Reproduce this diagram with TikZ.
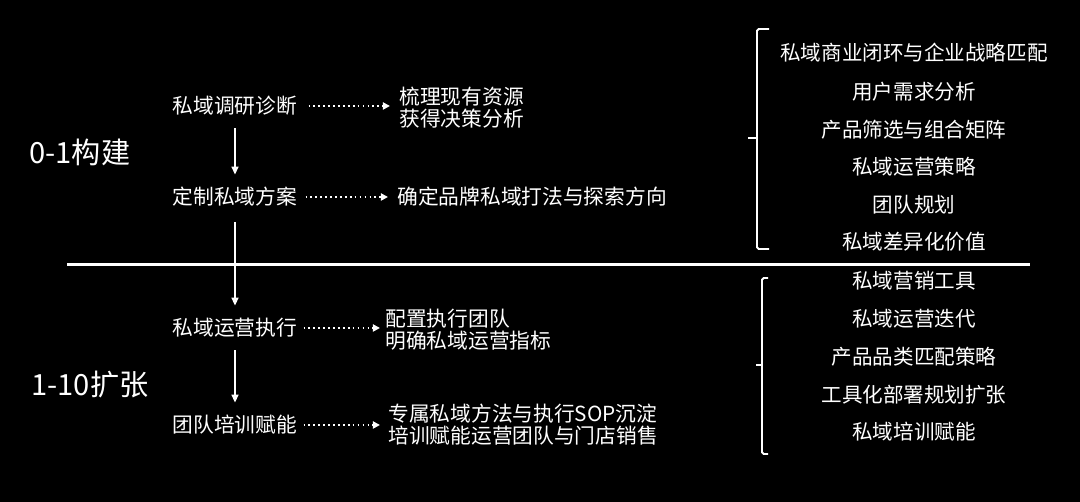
\documentclass[tikz,border=0pt]{standalone}
\usepackage{fontspec}
\setmainfont{Noto Sans CJK SC}
\usetikzlibrary{positioning, arrows.meta}

\tikzset{
    stage/.style={font=\fontsize{16.6}{19}\selectfont, text=white, anchor=west, inner sep=0pt},
    stepnode/.style={font=\fontsize{11.8}{14}\selectfont, text=white, inner sep=0pt},
    outnode/.style={font=\fontsize{11.8}{12.6}\selectfont, text=white, align=left, anchor=west, inner sep=0pt},
    listnode/.style={font=\fontsize{11.7}{14}\selectfont, text=white, inner sep=0pt},
    flow/.style={white, line width=0.8pt, -{Triangle[length=4.5pt, width=4pt]}, shorten <=0.25cm, shorten >=0.25cm},
    hint/.style={white, line width=1pt, dash pattern=on 1pt off 1.8pt, -{Triangle[length=4pt, width=4pt]}},
    brace/.style={white, line width=1.1pt, rounded corners=1pt}
}

\begin{document}
\begin{tikzpicture}[x=0.02cm, y=-0.02cm]

    % Background
    \fill[black] (0,0) rectangle (1080,502);
    \useasboundingbox (0,0) rectangle (1080,502);

    % =====================================================
    % STAGE LABELS AND DIVIDER
    % =====================================================
    \node[stage] (build) at (29,152) {0-1构建};
    \node[stage] (expand) at (31,385) {1-10扩张};
    \draw[white, line width=1.7pt] (67,265) -- (1030,265);

    % =====================================================
    % LEFT: STEPS
    % =====================================================
    \node[stepnode] (diag) at (235,106) {私域调研诊断};
    \node[stepnode] (plan) at (235,197) {定制私域方案};
    \node[stepnode] (exec) at (235,328) {私域运营执行};
    \node[stepnode] (train) at (235,425) {团队培训赋能};

    \draw[flow] (diag) -- (plan);
    \draw[flow, shorten <=0.3cm] (plan) -- (exec);
    \draw[flow] (exec) -- (train);

    % =====================================================
    % MIDDLE: OUTCOMES
    % =====================================================
    \node[outnode] (res) at (399,108) {梳理现有资源\\获得决策分析};
    \node[outnode] (dir) at (397,197) {确定品牌私域打法与探索方向};
    \node[outnode] (team) at (385,330) {配置执行团队\\明确私域运营指标};
    \node[outnode] (sop) at (388,425) {专属私域方法与执行SOP沉淀\\培训赋能运营团队与门店销售};

    \draw[hint, shorten <=0.22cm, shorten >=0.18cm] (diag.east) -- (diag.east -| res.west);
    \draw[hint, shorten <=0.16cm, shorten >=0.18cm] (plan.east) -- (plan.east -| dir.west);
    \draw[hint, shorten <=0.12cm, shorten >=0.1cm] (exec.east) -- (exec.east -| team.west);
    \draw[hint, shorten <=0.12cm, shorten >=0.16cm] (train.east) -- (train.east -| sop.west);

    % =====================================================
    % RIGHT: CONTENT LISTS
    % =====================================================
    \foreach \y/\t [count=\i] in {53/私域商业闭环与企业战略匹配, 92/用户需求分析, 130/产品筛选与组合矩阵,
        167/私域运营策略, 205/团队规划, 242/私域差异化价值} {
        \node[listnode] (top\i) at (914,\y) {\t};
    }
    \foreach \y/\t [count=\i] in {281/私域营销工具, 319/私域运营迭代, 357/产品品类匹配策略,
        395/工具化部署规划扩张, 432/私域培训赋能} {
        \node[listnode] (bot\i) at (914,\y) {\t};
    }

    % Brackets
    \draw[brace] (769,29) -- (757,29) -- (757,249) -- (769,249);
    \draw[brace] (757,138) -- (748,138);
    \draw[brace] (768,278) -- (762,278) -- (762,454) -- (768,454);
    \draw[brace] (762,365) -- (756,365);

\end{tikzpicture}
\end{document}
